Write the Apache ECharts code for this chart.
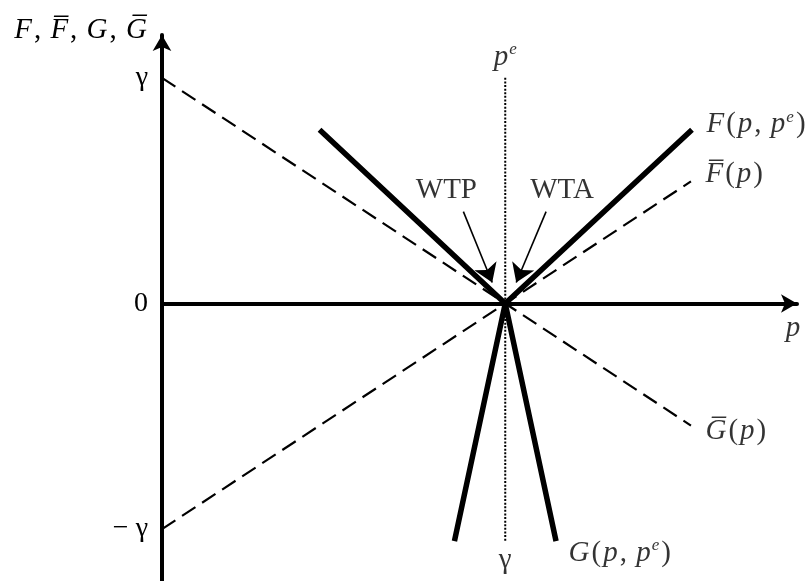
<!DOCTYPE html>
<html>
<head>
<meta charset="utf-8">
<script src="https://cdn.jsdelivr.net/npm/echarts@6/dist/echarts.min.js"></script>
<style>
    html, body { margin: 0; padding: 0; background: #fff; }
    #chart { width: 811px; height: 581px; }
</style>
</head>
<body>
<div id="chart"></div>
<script>
    // p in units of p^e, vertical values in units of gamma
    var xMax = 1.85;
    var yMin = -1.23;
    var yMax = 1.19;

    var fLine = [[0.459, 0.77], [1, 0], [1.544, 0.77]];      // F(p, p^e)
    var gLine = [[0.852, -1.053], [1, 0], [1.148, -1.053]];  // G(p, p^e)
    var fBar = [[0, -1], [1.541, 0.541]];                    // Fbar(p)
    var gBar = [[0, 1], [1.541, -0.541]];                    // Gbar(p)
    var peLine = [[1, 1], [1, -1.057]];                      // p = p^e
    var wtpArrow = [[0.878, 0.407], [0.962, 0.093]];
    var wtaArrow = [[1.119, 0.407], [1.032, 0.093]];

    var yTicks = [-1, 0, 1];
    var yTickLabels = ['\u2212 \u03b3', '0', '\u03b3'];

    var serif = 'Liberation Serif';
    var fs = 29;
    var rich = {
        i: { fontFamily: serif, fontStyle: 'italic', fontSize: fs, color: '#000', lineHeight: 32, padding: [0, 1, 0, 1] },
        n: { fontFamily: serif, fontSize: fs, color: '#000', lineHeight: 32, padding: [0, 1, 0, 1] },
        w: { fontFamily: serif, fontSize: 29, color: '#000', lineHeight: 32 },
        s: { fontFamily: serif, fontStyle: 'italic', fontSize: 17, color: '#000', verticalAlign: 'top', lineHeight: 17, padding: [0, 1, 0, 0] }
    };

    function note(pt, text, pos, dist, off) {
        return {
            value: pt,
            label: { show: true, position: pos, distance: dist, offset: off, color: '#000', formatter: text, rich: rich }
        };
    }

    var notes = [
        note(fLine[fLine.length - 1], '{i|F}{n|(}{i|p}{n|, }{i|p}{s|e}{n|)}', 'right', 13, [0, -5]),
        note(fBar[fBar.length - 1], '{i|F\u0305}{n|(}{i|p}{n|)}', 'right', 13, [0, -7]),
        note(gBar[gBar.length - 1], '{i|G\u0305}{n|(}{i|p}{n|)}', 'right', 13, [0, 6]),
        note(gLine[gLine.length - 1], '{i|G}{n|(}{i|p}{n|, }{i|p}{s|e}{n|)}', 'right', 11, [0, 12]),
        note(peLine[0], '{i|p}{s|e}', 'top', 4, [0, 0]),
        note(peLine[1], '{w|\u03b3}', 'bottom', 2, [0, 0]),
        note(wtpArrow[0], '{w|WTP}', 'top', 2, [-17, -3]),
        note(wtaArrow[0], '{w|WTA}', 'top', 2, [16, -3]),
        note([xMax, 0], '{i|p}', 'bottom', 8, [-4, 0])
    ];

    var chart = echarts.init(document.getElementById('chart'));
    chart.setOption({
        animation: false,
        backgroundColor: '#fff',
        grid: { left: 162, right: 14, top: 35, bottom: 0, outerBoundsMode: 'none', containLabel: false },
        xAxis: {
            type: 'value', min: 0, max: xMax,
            axisLine: { onZero: true, symbol: ['none', 'arrow'], symbolSize: [14, 16], lineStyle: { color: '#000', width: 4 } },
            axisTick: { show: false }, axisLabel: { show: false }, splitLine: { show: false }
        },
        yAxis: {
            type: 'value', min: yMin, max: yMax,
            name: '{i|F}{n|, }{i|F\u0305}{n|, }{i|G}{n|, }{i|G\u0305}',
            nameLocation: 'end', nameGap: 0,
            nameTextStyle: { align: 'right', verticalAlign: 'middle', padding: [0, 14, 10, 0], rich: rich },
            axisLine: { show: true, symbol: ['none', 'arrow'], symbolSize: [14, 16], lineStyle: { color: '#000', width: 4 } },
            axisTick: { show: false },
            axisLabel: {
                customValues: yTicks, margin: 14,
                fontFamily: serif, fontSize: 28, color: '#000',
                formatter: function (v) { return yTickLabels[yTicks.indexOf(v)]; }
            },
            splitLine: { show: false }
        },
        series: [
            { type: 'line', data: peLine, symbol: 'none', z: 1, lineStyle: { color: '#000', width: 2, type: [2, 1.6] } },
            { type: 'line', data: gBar, symbol: 'none', z: 2, lineStyle: { color: '#000', width: 2.2, type: [16, 8] } },
            { type: 'line', data: fBar, symbol: 'none', z: 2, lineStyle: { color: '#000', width: 2.2, type: [16, 8] } },
            { type: 'line', data: fLine, symbol: 'none', z: 3, lineStyle: { color: '#000', width: 5.5 } },
            { type: 'line', data: gLine, symbol: 'none', z: 3, lineStyle: { color: '#000', width: 5.5 } },
            {
                type: 'lines', coordinateSystem: 'cartesian2d', z: 4,
                symbol: ['none', 'arrow'], symbolSize: [12, 18],
                lineStyle: { color: '#000', width: 1.6, opacity: 1 },
                data: [{ coords: wtpArrow }, { coords: wtaArrow }]
            },
            {
                type: 'scatter', data: notes, symbolSize: 1, z: 5,
                itemStyle: { color: 'rgba(0,0,0,0)' }, silent: true
            }
        ]
    });
</script>
</body>
</html>
